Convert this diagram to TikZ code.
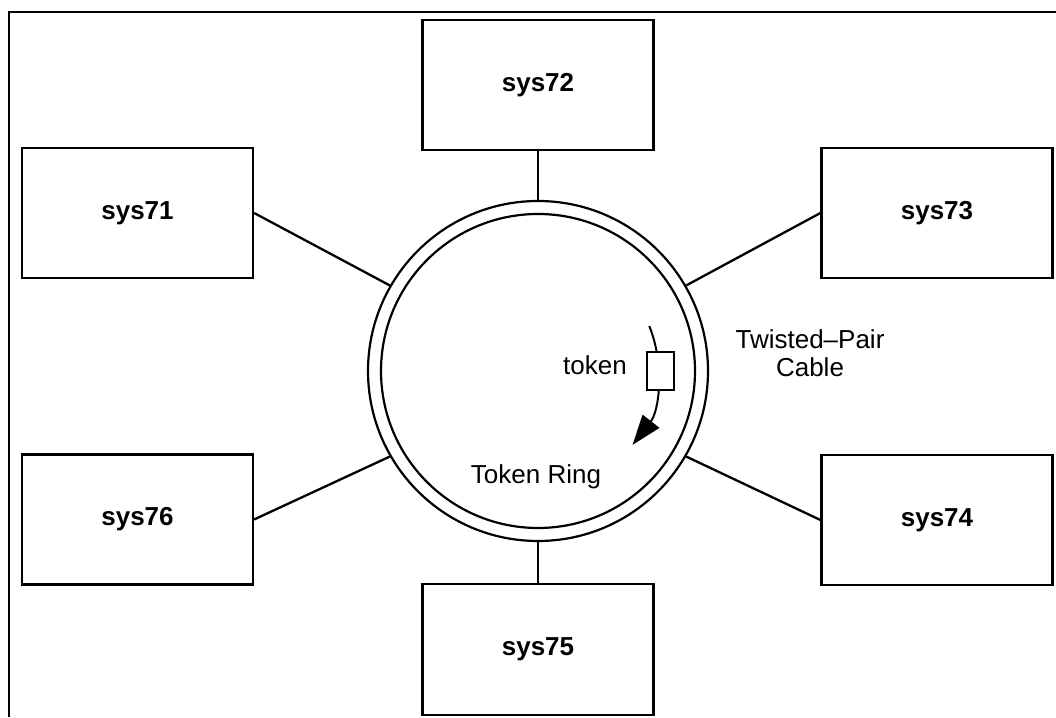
\documentclass[tikz,border=0pt]{standalone}
\usepackage{fontspec}
\setmainfont{Liberation Sans}
\usetikzlibrary{arrows.meta,calc}
\tikzset{
  frameline/.style={line width=2.4pt},
  sysbox/.style={draw, line width=2.2pt, minimum width=231pt, minimum height=130pt, inner sep=0pt,
    font=\fontsize{26}{28}\selectfont\bfseries},
  wire/.style={line width=2.3pt},
  ringline/.style={circle, draw, line width=2.2pt, inner sep=0pt},
  lbl/.style={font=\fontsize{26}{28}\selectfont, inner sep=0pt, align=center},
}
\begin{document}
\begin{tikzpicture}[x=1pt,y=1pt]
\useasboundingbox (0,0) rectangle (1056,717);
\draw[frameline] (9,0) -- (9,705) -- (1056,705);
% ring
\node[ringline, minimum size=340pt] (ring) at (538,346) {};
\node[ringline, minimum size=314pt] (inner) at (538,346) {};
% boxes
\node[sysbox] (s71) at (137.5,504) {sys71};
\node[sysbox] (s72) at (538,632) {sys72};
\node[sysbox] (s73) at (937,504) {sys73};
\node[sysbox] (s74) at (937,197) {sys74};
\node[sysbox, minimum height=131pt] (s75) at (538,67.5) {sys75};
\node[sysbox] (s76) at (137.5,197.5) {sys76};
% connectors
\draw[wire] (s72.south) -- (ring.north);
\draw[wire] (s75.north) -- (ring.south);
\draw[wire] (s71.east) -- (ring.150);
\draw[wire] (s73.west) -- (ring.30);
\draw[wire] (s74.west) -- (ring.-30);
\draw[wire] (s76.east) -- (ring.210);
% token arrow
\coordinate (tstart) at ($(ring.center)+(22:120pt)$);
\draw[line width=2pt, -{Triangle[length=30pt,width=21pt]}] (tstart) arc[start angle=22, end angle=-38, radius=120pt];
\node[draw, fill=white, line width=2pt, minimum width=27pt, minimum height=38pt, inner sep=0pt] (tok) at ($(ring.center)+(0:122pt)$) {};
\node[lbl, anchor=east] (toklbl) at (627,352) {token};
\node[lbl] (tp) at (810,364) {Twisted--Pair\\Cable};
\node[lbl] (tr) at (536,240) {Token Ring};
\end{tikzpicture}
\end{document}
